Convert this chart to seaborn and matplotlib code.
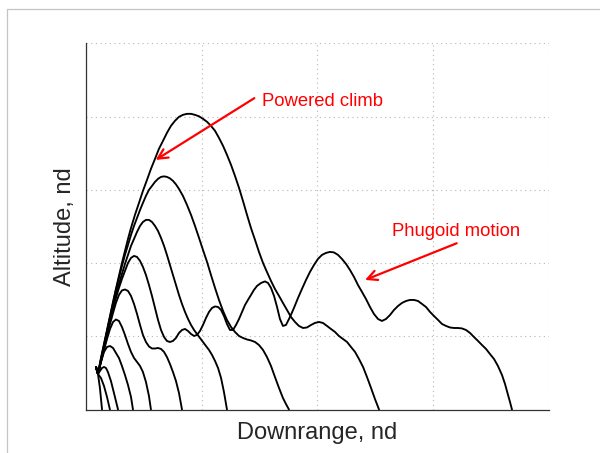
import matplotlib
matplotlib.use("Agg")
import matplotlib.pyplot as plt
from matplotlib.lines import Line2D
import pandas as pd
import seaborn as sns

# Glide trajectories after a powered launch: (downrange, altitude), non-dimensional.
traj_t1 = [(0.089, 0.581), (0.106, 0.485), (0.123, 0.294), (0.141, 0.0)]
traj_t2 = [(0.089, 0.581), (0.106, 0.485), (0.132, 0.430), (0.158, 0.321),
           (0.184, 0.171), (0.209, 0.0)]
traj_a = [(0.089, 0.581), (0.106, 0.485), (0.123, 0.526), (0.141, 0.567),
          (0.158, 0.581), (0.175, 0.567), (0.192, 0.512), (0.218, 0.389),
          (0.244, 0.225), (0.261, 0.116), (0.279, 0.0)]
traj_b = [(0.089, 0.581), (0.106, 0.485), (0.132, 0.649), (0.158, 0.786),
          (0.184, 0.854), (0.210, 0.867), (0.236, 0.840), (0.261, 0.772),
          (0.287, 0.704), (0.313, 0.594), (0.339, 0.471), (0.365, 0.335),
          (0.391, 0.171), (0.408, 0.0)]
traj_c = [(0.089, 0.581), (0.106, 0.485), (0.132, 0.649), (0.158, 0.813),
          (0.184, 0.963), (0.210, 1.100), (0.236, 1.195), (0.261, 1.229),
          (0.287, 1.209), (0.313, 1.127), (0.339, 1.018), (0.365, 0.895),
          (0.391, 0.786), (0.417, 0.704), (0.443, 0.649), (0.469, 0.594),
          (0.494, 0.512), (0.520, 0.376), (0.546, 0.184), (0.563, 0.0)]
traj_d = [(0.089, 0.581), (0.106, 0.485), (0.132, 0.663), (0.158, 0.827),
          (0.184, 1.004), (0.210, 1.168), (0.236, 1.318), (0.261, 1.455),
          (0.287, 1.564), (0.313, 1.626), (0.339, 1.639), (0.365, 1.619),
          (0.391, 1.551), (0.417, 1.441), (0.443, 1.305), (0.469, 1.154),
          (0.494, 1.018), (0.520, 0.922), (0.546, 0.861), (0.572, 0.833),
          (0.598, 0.833), (0.624, 0.840), (0.650, 0.827), (0.676, 0.786),
          (0.701, 0.717), (0.727, 0.622), (0.753, 0.512), (0.779, 0.389),
          (0.805, 0.225), (0.831, 0.0)]
traj_phugoid = [
    (0.089, 0.581), (0.106, 0.485), (0.132, 0.676), (0.158, 0.854),
    (0.184, 1.031), (0.210, 1.209), (0.236, 1.373), (0.261, 1.523),
    (0.287, 1.660), (0.313, 1.783), (0.339, 1.892), (0.365, 2.001),
    (0.391, 2.070), (0.417, 2.097), (0.443, 2.083), (0.469, 2.029),
    (0.494, 1.947), (0.520, 1.837), (0.546, 1.701), (0.572, 1.551),
    (0.598, 1.387), (0.624, 1.223), (0.650, 1.086), (0.676, 0.990),
    (0.701, 0.936), (0.727, 0.922), (0.753, 0.936), (0.779, 0.977),
    (0.805, 1.045), (0.831, 1.086), (0.857, 1.100), (0.883, 1.072),
    (0.909, 1.031), (0.935, 1.004), (0.960, 1.018), (0.986, 1.072),
    (1.012, 1.154), (1.038, 1.250), (1.064, 1.332), (1.090, 1.387),
    (1.116, 1.407), (1.142, 1.400), (1.168, 1.359), (1.193, 1.277),
    (1.219, 1.168), (1.245, 1.086), (1.271, 1.086), (1.297, 1.154),
    (1.323, 1.236), (1.349, 1.332), (1.375, 1.428), (1.400, 1.496),
    (1.426, 1.564), (1.452, 1.633), (1.478, 1.687), (1.513, 1.728),
    (1.547, 1.749), (1.573, 1.728), (1.599, 1.660), (1.625, 1.551),
    (1.651, 1.400), (1.676, 1.236), (1.702, 1.141), (1.728, 1.154),
    (1.763, 1.264), (1.797, 1.387), (1.832, 1.523), (1.866, 1.646),
    (1.901, 1.769), (1.935, 1.878), (1.970, 1.974), (2.004, 2.056),
    (2.039, 2.111), (2.073, 2.138), (2.108, 2.152), (2.142, 2.145),
    (2.177, 2.111), (2.211, 2.056), (2.246, 1.988), (2.280, 1.906),
    (2.315, 1.810), (2.349, 1.701), (2.384, 1.605), (2.418, 1.510),
    (2.453, 1.400), (2.487, 1.305), (2.522, 1.236), (2.556, 1.209),
    (2.591, 1.236), (2.626, 1.291), (2.660, 1.359), (2.695, 1.414),
    (2.729, 1.455), (2.764, 1.482), (2.798, 1.496), (2.833, 1.496),
    (2.867, 1.482), (2.902, 1.441), (2.936, 1.400), (2.971, 1.332),
    (3.005, 1.277), (3.040, 1.223), (3.074, 1.168), (3.109, 1.141),
    (3.143, 1.120), (3.178, 1.113), (3.212, 1.113), (3.247, 1.107),
    (3.281, 1.086), (3.316, 1.045), (3.350, 0.990), (3.385, 0.936),
    (3.419, 0.881), (3.454, 0.827), (3.488, 0.758), (3.523, 0.690),
    (3.557, 0.594), (3.592, 0.471), (3.618, 0.348), (3.644, 0.198),
    (3.661, 0.102), (3.678, 0.0)]
traj_e = [(0.089, 0.581), (0.106, 0.485), (0.132, 0.676), (0.158, 0.867),
          (0.184, 1.059), (0.210, 1.236), (0.236, 1.400), (0.261, 1.564),
          (0.287, 1.714), (0.313, 1.851), (0.339, 1.988), (0.365, 2.111),
          (0.391, 2.234), (0.417, 2.329), (0.443, 2.425), (0.469, 2.507),
          (0.494, 2.561), (0.520, 2.589), (0.546, 2.589), (0.572, 2.561),
          (0.598, 2.507), (0.624, 2.438), (0.650, 2.343), (0.676, 2.234),
          (0.701, 2.111), (0.727, 1.974), (0.753, 1.837), (0.779, 1.701),
          (0.805, 1.564), (0.831, 1.441), (0.857, 1.332), (0.883, 1.236),
          (0.909, 1.154), (0.935, 1.086), (0.960, 1.031), (0.986, 0.977),
          (1.012, 0.922), (1.038, 0.867), (1.064, 0.813), (1.090, 0.745),
          (1.116, 0.663), (1.142, 0.567), (1.168, 0.430), (1.193, 0.239),
          (1.219, 0.0)]
traj_f = [(0.089, 0.581), (0.106, 0.485), (0.132, 0.690), (0.158, 0.881),
          (0.184, 1.072), (0.210, 1.264), (0.236, 1.455), (0.261, 1.633),
          (0.287, 1.796), (0.313, 1.960), (0.339, 2.111), (0.365, 2.247),
          (0.391, 2.384), (0.417, 2.507), (0.443, 2.616), (0.469, 2.725),
          (0.494, 2.821), (0.520, 2.917), (0.546, 2.999), (0.572, 3.053),
          (0.598, 3.108), (0.624, 3.149), (0.650, 3.176), (0.676, 3.183),
          (0.701, 3.176), (0.727, 3.156), (0.753, 3.122), (0.779, 3.074),
          (0.805, 3.012), (0.839, 2.917), (0.874, 2.794), (0.909, 2.657),
          (0.943, 2.507), (0.978, 2.343), (1.012, 2.179), (1.047, 2.015),
          (1.081, 1.837), (1.116, 1.660), (1.150, 1.496), (1.185, 1.346),
          (1.219, 1.223), (1.254, 1.127), (1.288, 1.059), (1.323, 1.004),
          (1.357, 0.977), (1.392, 0.956), (1.426, 0.943), (1.461, 0.922),
          (1.495, 0.881), (1.530, 0.813), (1.564, 0.717), (1.599, 0.594),
          (1.633, 0.444), (1.668, 0.294), (1.702, 0.157), (1.728, 0.075),
          (1.754, 0.0)]
traj_g = [(0.089, 0.581), (0.106, 0.485), (0.132, 0.704), (0.158, 0.895),
          (0.184, 1.086), (0.210, 1.277), (0.236, 1.469), (0.261, 1.646),
          (0.287, 1.824), (0.313, 2.001), (0.339, 2.165), (0.365, 2.329),
          (0.391, 2.479), (0.425, 2.657), (0.460, 2.821), (0.494, 2.985),
          (0.529, 3.135), (0.563, 3.285), (0.598, 3.422), (0.632, 3.559),
          (0.667, 3.668), (0.701, 3.777), (0.736, 3.873), (0.770, 3.941),
          (0.805, 3.996), (0.839, 4.023), (0.874, 4.037), (0.909, 4.037),
          (0.943, 4.023), (0.978, 4.003), (1.012, 3.969), (1.047, 3.928),
          (1.081, 3.873), (1.116, 3.805), (1.150, 3.709), (1.185, 3.600),
          (1.219, 3.477), (1.254, 3.340), (1.288, 3.190), (1.323, 3.026),
          (1.357, 2.848), (1.392, 2.657), (1.426, 2.479), (1.461, 2.316),
          (1.495, 2.152), (1.530, 2.001), (1.564, 1.878), (1.599, 1.755),
          (1.633, 1.646), (1.668, 1.551), (1.702, 1.455), (1.737, 1.359),
          (1.771, 1.264), (1.806, 1.195), (1.840, 1.141), (1.875, 1.113),
          (1.909, 1.120), (1.944, 1.154), (1.978, 1.182), (2.013, 1.195),
          (2.047, 1.182), (2.082, 1.141), (2.116, 1.100), (2.151, 1.059),
          (2.185, 1.004), (2.220, 0.963), (2.255, 0.922), (2.289, 0.854),
          (2.324, 0.786), (2.358, 0.690), (2.393, 0.581), (2.427, 0.444),
          (2.462, 0.294), (2.496, 0.143), (2.531, 0.0)]

trajectories = {
    "t1": traj_t1, "t2": traj_t2, "a": traj_a, "b": traj_b, "c": traj_c,
    "d": traj_d, "phugoid": traj_phugoid, "e": traj_e, "f": traj_f, "g": traj_g,
}

# Annotation callouts: text anchor (left, baseline), arrow tail and arrow head
climb_label = "Powered climb"
climb_text_xy = (1.519, 4.146)
climb_tail = (1.455, 4.251)
climb_head = (0.604, 3.408)

phugoid_label = "Phugoid motion"
phugoid_text_xy = (2.640, 2.370)
phugoid_tail = (3.201, 2.270)
phugoid_head = (2.410, 1.769)

x_ticks = [0, 1, 2, 3, 4]
y_ticks = [0, 1, 2, 3, 4, 5]

rows = []
for name, pts in trajectories.items():
    for i, (x, y) in enumerate(pts):
        rows.append({"run": name, "order": i, "downrange": x, "altitude": y})
df = pd.DataFrame(rows)

sns.set_style("white")
plt.rcParams["font.family"] = ["Liberation Sans", "DejaVu Sans"]

fig = plt.figure(figsize=(6.0, 4.53), dpi=100)
ax = fig.add_axes([0.1428, 0.0960, 0.7727, 0.8084])

sns.lineplot(data=df, x="downrange", y="altitude", units="run", estimator=None,
             sort=False, color="black", linewidth=1.35, ax=ax, legend=False,
             solid_joinstyle="round", solid_capstyle="round")

ax.set_xlim(0, 4)
ax.set_ylim(0, 5)
ax.set_xticks(x_ticks)
ax.set_yticks(y_ticks)
ax.tick_params(direction="in", length=3, width=0.8, color="#333333",
               labelbottom=False, labelleft=False)
ax.grid(True, linestyle=(0, (1, 3.2)), color="#b5b5b5", linewidth=0.8)
ax.set_axisbelow(True)
for side in ("top", "right"):
    ax.spines[side].set_visible(False)
for side in ("left", "bottom"):
    ax.spines[side].set_color("#333333")
    ax.spines[side].set_linewidth(0.9)

ax.set_xlabel("Downrange, nd", fontsize=17)
ax.set_ylabel("Altitude, nd", fontsize=17)
ax.xaxis.set_label_coords(0.5, -0.035)
ax.yaxis.set_label_coords(-0.02, 0.5)

arrow_kw = dict(arrowstyle="->,head_length=0.7,head_width=0.35", color="red",
                lw=1.6, shrinkA=0, shrinkB=0, mutation_scale=10)
ax.annotate("", xy=climb_head, xytext=climb_tail, arrowprops=arrow_kw)
ax.annotate("", xy=phugoid_head, xytext=phugoid_tail, arrowprops=arrow_kw)
ax.text(*climb_text_xy, climb_label, color="red", fontsize=13.3,
        ha="left", va="baseline")
ax.text(*phugoid_text_xy, phugoid_label, color="red", fontsize=13.3,
        ha="left", va="baseline")

# Thin frame around the figure's top and left edges
frame_color = "#c4c4c4"
fig.add_artist(Line2D([0.0122, 1.0], [0.9795, 0.9795], color=frame_color,
                      linewidth=0.9, transform=fig.transFigure))
fig.add_artist(Line2D([0.0122, 0.0122], [0.0, 0.9795], color=frame_color,
                      linewidth=0.9, transform=fig.transFigure))

fig.savefig("out.png", dpi=100)
